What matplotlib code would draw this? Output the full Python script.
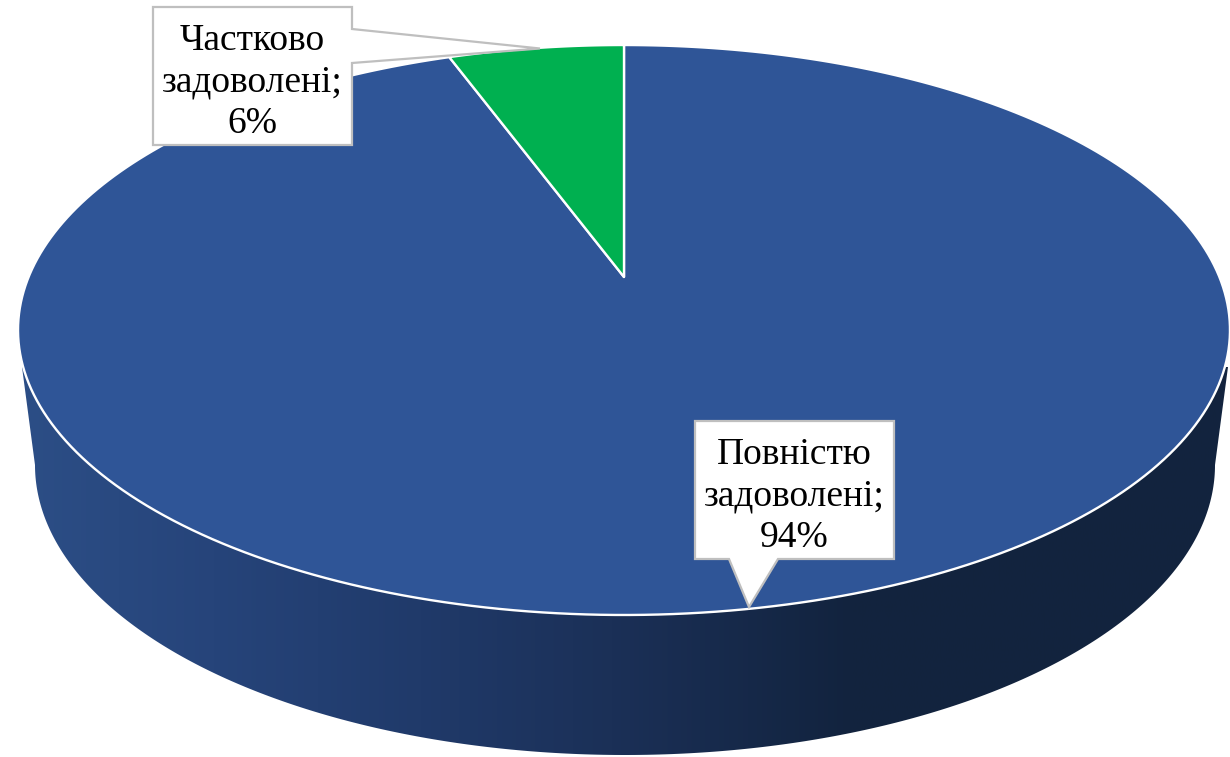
import numpy as np
import matplotlib
matplotlib.use('Agg')
import matplotlib.pyplot as plt
from matplotlib.colors import LinearSegmentedColormap
from matplotlib.patches import Polygon

names = ['Повністю\nзадоволені', 'Частково\nзадоволені']
shares = [94.4, 5.6]
slice_colors = ['#2f5597', '#00b050']

plt.rcParams['font.family'] = ['Liberation Serif', 'DejaVu Serif']

fig = plt.figure(figsize=(12.3, 7.57), dpi=100)
ax = fig.add_axes([0, 0, 1, 1])
ax.set_xlim(0, 1230)
ax.set_ylim(757, 0)
ax.axis('off')


# tilted disc: circle -> ellipse, centre of the pie is off the ellipse centre
def top_disc(t):
    u, v = np.sin(t), np.cos(t)
    w = 1 + 0.186 * v
    return 624 + 595.4 * u / w, (277 - 223.6 * v) / w


def wedge(start, end):
    t = np.linspace(start, end, 300)
    x, y = top_disc(t)
    return np.r_[624, x], np.r_[277, y]


# side wall
t = np.linspace(np.pi / 2, 3 * np.pi / 2, 300)
bx = 625 + 590 * np.sin(t)
by = 465 + 290 * -np.cos(t)
wall = np.column_stack([np.r_[1228, bx, 22], np.r_[367, by, 367]])

cmap = LinearSegmentedColormap.from_list('side', [
    (0.0, '#2c4e86'), (0.16, '#26447a'), (0.33, '#203a6a'),
    (0.49, '#1b3057'), (0.69, '#12233e'), (1.0, '#13243e')])
im = ax.imshow(np.linspace(0, 1, 512)[None, :], cmap=cmap, aspect='auto',
               extent=(20, 1230, 757, 300), zorder=1)
ax.set_xlim(0, 1230)
ax.set_ylim(757, 0)
clip = Polygon(wall, closed=True, transform=ax.transData, facecolor='none', edgecolor='none')
ax.add_patch(clip)
im.set_clip_path(clip)

# slices, clockwise from 12 o'clock, green one ends at the top
edges = np.r_[0, np.cumsum(shares)] / np.sum(shares) * 2 * np.pi
for i in range(len(shares)):
    x, y = wedge(edges[i], edges[i + 1])
    ax.fill(x, y, color=slice_colors[i], ec='white', lw=1.7, joinstyle='round', zorder=2)

# callouts
box1 = [(695, 421), (894, 421), (894, 559), (778, 559), (749, 607), (729, 559), (695, 559)]
box2 = [(153, 7), (352, 7), (352, 29), (540, 48.5), (352, 63), (352, 145), (153, 145)]
for box in box1, box2:
    ax.add_patch(Polygon(box, closed=True, fc='white', ec='#bfbfbf', lw=1.6, zorder=3))

labels = [f'{n};\n{s:.0f}%' for n, s in zip(names, shares)]
ax.text(794.5, 496, labels[0], ha='center', va='center', fontsize=27, color='black',
        linespacing=1.27, zorder=4)
ax.text(252.5, 82, labels[1], ha='center', va='center', fontsize=27, color='black',
        linespacing=1.27, zorder=4)

fig.savefig('out.png', dpi=100)
